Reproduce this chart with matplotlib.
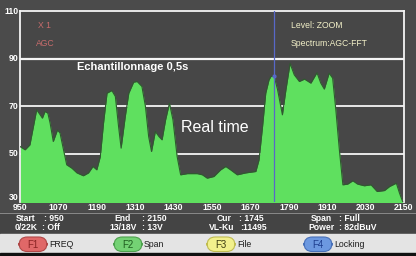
import matplotlib
matplotlib.use("Agg")
import matplotlib.pyplot as plt
from matplotlib.patches import FancyBboxPatch, Rectangle

# ---------------- data ----------------
freq = [950, 966, 981, 992, 1002, 1013, 1020, 1028, 1037, 1044, 1054, 1067, 1075,
        1086, 1096, 1112, 1128, 1148, 1164, 1178, 1190, 1201, 1211, 1222, 1237,
        1248, 1258, 1266, 1279, 1290, 1305, 1316, 1331, 1342, 1352, 1361, 1373,
        1384, 1394, 1405, 1417, 1428, 1441, 1452, 1473, 1504, 1520, 1535, 1556,
        1577, 1593, 1608, 1629, 1655, 1687, 1697, 1708, 1718, 1728, 1734, 1744,
        1755, 1770, 1781, 1794, 1807, 1823, 1839, 1859, 1878, 1890, 1901, 1916,
        1927, 1937, 1948, 1959, 1974, 1990, 2005, 2026, 2047, 2066, 2089, 2105,
        2126, 2136, 2147, 2150]
level = [53.1, 51.7, 53.8, 61.5, 68.5, 66.4, 65.0, 67.8, 67.1, 63.0, 55.2, 60.0, 58.8,
         51.7, 45.4, 44.0, 42.0, 40.8, 42.0, 44.7, 43.3, 48.9, 62.9, 75.5, 76.6,
         74.1, 61.5, 52.4, 65.7, 75.5, 80.1, 80.4, 78.3, 69.9, 57.3, 51.0, 59.4,
         57.3, 55.9, 64.3, 71.3, 64.3, 48.9, 41.2, 41.7, 41.7, 41.2, 39.8, 40.5,
         43.3, 44.7, 43.3, 41.2, 42.0, 42.6, 47.5, 61.5, 75.5, 81.0, 82.5, 82.7,
         76.9, 66.4, 76.9, 88.0, 83.2, 80.4, 81.4, 79.7, 84.1, 79.7, 77.2, 83.9,
         81.8, 68.5, 51.7, 37.0, 37.3, 38.7, 37.3, 36.6, 37.0, 34.2, 34.6, 36.3,
         37.7, 33.5, 29.5, 29.0]
x_ticks = [950, 1070, 1190, 1310, 1430, 1550, 1670, 1790, 1910, 2030, 2150]
y_ticks = [30, 50, 70, 90, 110]
cursor_freq = 1745
cursor_level = 82.7

info_row1 = [("Start", ": 950"), ("End", ": 2150"), ("Cur", ": 1745"), ("Span", ": Full")]
info_row2 = [("0/22K", ": Off"), ("13/18V", ": 13V"), ("VL-Ku", ":11495"), ("Power", ": 82dBuV")]
buttons = [("F1", "FREQ"), ("F2", "Span"), ("F3", "File"), ("F4", "Locking")]

# ---------------- figure ----------------
W, H = 416, 256
BG = "#4b4b4b"
fig = plt.figure(figsize=(W / 100, H / 100), dpi=100, facecolor=BG)
plt.rcParams['font.family'] = ['Liberation Sans', 'DejaVu Sans']

def fx(px):
    return px / W

def fy(py):
    return 1 - py / H

AX_TOP, AX_BOT = 11, 201.5
ax = fig.add_axes([fx(20), fy(AX_BOT), fx(404) - fx(20), (AX_BOT - AX_TOP) / H])
ax.set_facecolor("#474747")
ax.set_xlim(950, 2150)
ax.set_ylim(30, 110)
for yv in [50, 70, 90]:
    ax.axhline(yv, color="#f4f4f4", lw=1.3 if yv != 90 else 1.6, zorder=1)
ax.fill_between(freq, level, 0, color="#5fe05f", zorder=2, lw=0)
ax.plot(freq, level, color="#2f5a2f", lw=0.8, zorder=3)
ax.axvline(cursor_freq, color="#5868c8", lw=0.9, zorder=4)
ax.plot([cursor_freq], [cursor_level], "o", color="#5868c8", ms=2, zorder=5)
ax.set_xticks([])
ax.set_yticks([])
for side in ["top", "left", "right"]:
    ax.spines[side].set_color("#f4f4f4")
    ax.spines[side].set_linewidth(1.3)
ax.spines["bottom"].set_visible(False)

# y tick labels
for yv in y_ticks:
    ax.text(-0.004, yv + (1.6 if yv == 30 else 0), str(yv), transform=ax.get_yaxis_transform(),
            ha="right", va="center", color="white", fontsize=6.3, fontweight="bold")
# x tick labels (centre at pixel row 207)
ty = -(207 - AX_BOT) / (AX_BOT - AX_TOP)
for xv in x_ticks:
    ax.text(xv, ty, str(xv), transform=ax.get_xaxis_transform(),
            ha="center", va="center", color="white", fontsize=6.3, fontweight="bold")

# overlay texts inside the plot
fig.text(fx(38), fy(25), "X 1", color="#c86c6c", fontsize=6.2, va="center", ha="left")
fig.text(fx(36), fy(43), "AGC", color="#c86c6c", fontsize=6.2, va="center", ha="left")
fig.text(fx(291), fy(25), "Level: ZOOM", color="#f2f0c8", fontsize=6.2, va="center", ha="left")
fig.text(fx(291), fy(43), "Spectrum:AGC-FFT", color="#f2f0c8", fontsize=6.2, va="center", ha="left")
fig.text(fx(77), fy(67), "Echantillonnage 0,5s", color="white", fontsize=8, fontweight="bold",
         va="center", ha="left")
fig.text(fx(181), fy(127), "Real time", color="white", fontsize=11.5, va="center", ha="left")

# separator line under tick labels
fig.add_artist(plt.Line2D([0, 1], [fy(212.5), fy(212.5)], color="#8a8a8a", lw=0.7))
fig.add_artist(Rectangle((0, fy(234)), 1, (234 - 213) / H, color="#444444", zorder=-1,
                         transform=fig.transFigure))

# info rows
label_x = [[(15, 44), (112, 142), (213, 239), (310, 339)],
           [(15, 42), (109, 142), (209, 240), (308, 339)]]
for r, (row, yy) in enumerate([(info_row1, 218.5), (info_row2, 228)]):
    for (lab, val), (x1, x2) in zip(row, label_x[r]):
        if r == 0:
            fig.text(fx(x1 + 11), fy(yy), lab, color="white", fontsize=6.2, fontweight="bold",
                     va="center", ha="center")
        else:
            fig.text(fx(x1), fy(yy), lab, color="white", fontsize=6.2, fontweight="bold",
                     va="center", ha="left")
        fig.text(fx(x2), fy(yy), val, color="white", fontsize=6.2, fontweight="bold",
                 va="center", ha="left")

# bottom light panel
fig.add_artist(Rectangle((0, fy(253)), 1, (253 - 233.5) / H, color="#e4e4e4",
                         transform=fig.transFigure))
fig.add_artist(Rectangle((0, 0), 1, 3 / H, color="#111111", transform=fig.transFigure))

btn_x = [19, 114, 207, 304]
btn_fill = ["#e06868", "#74d274", "#f2f08c", "#6c98e0"]
btn_edge = ["#b04848", "#4ea04e", "#c0bc50", "#4870b8"]
btn_text = ["#8a2424", "#1f5e1f", "#3c3c10", "#1f3f90"]
for (key, lab), bx, fc, ec, tc in zip(buttons, btn_x, btn_fill, btn_edge, btn_text):
    box = FancyBboxPatch((fx(bx), fy(251.5)), fx(28), (251.5 - 237) / H,
                         boxstyle="round,pad=0,rounding_size=0.02",
                         transform=fig.transFigure, facecolor=fc, edgecolor=ec, lw=0.8,
                         mutation_aspect=W / H)
    fig.add_artist(box)
    fig.text(fx(bx + 14), fy(244.5), key, color=tc, fontsize=7, va="center", ha="center")
    fig.text(fx(bx + 30), fy(244.5), lab, color="#1c1c1c", fontsize=6.3, va="center", ha="left")

fig.savefig("out.png", dpi=100, facecolor=BG)
